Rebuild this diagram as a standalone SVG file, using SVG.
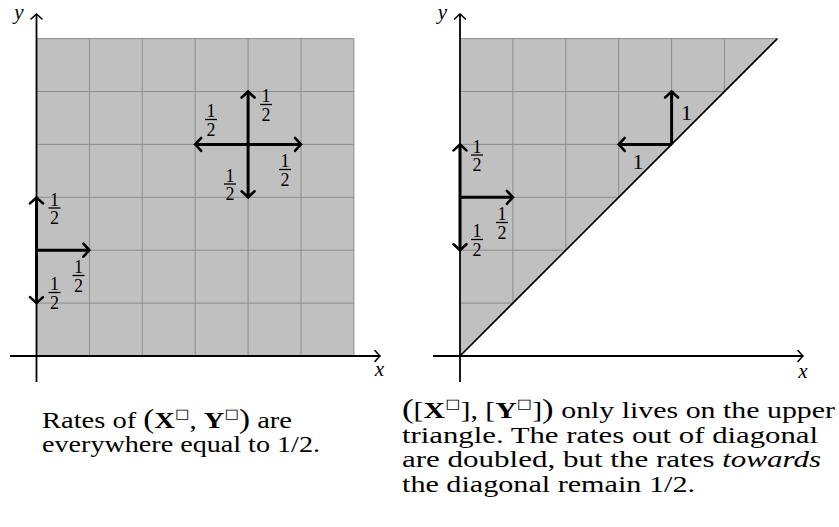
<svg xmlns="http://www.w3.org/2000/svg" width="839" height="527" viewBox="0 0 839 527">
<style>
.fill{fill:#c0c0c0;stroke:none}
.grid{stroke:#8c8c8c;stroke-width:1;fill:none}
.axis{stroke:#000;stroke-width:1.8;fill:none;marker-end:url(#ax)}
.arr{stroke:#000;stroke-width:3;fill:none;marker-end:url(#ah)}
.diag{stroke:#000;stroke-width:1.6}
.num{font-family:"Liberation Serif",serif;font-size:18px;text-anchor:middle;fill:#000}
.one{font-family:"Liberation Serif",serif;font-size:22px;text-anchor:middle;fill:#000}
.bar{stroke:#000;stroke-width:1.3}
.lab{font-family:"Liberation Serif",serif;font-style:italic;font-size:21px;text-anchor:middle;fill:#000}
.cap{font-family:"Liberation Serif",serif;font-size:24px;fill:#000}
.b{font-weight:bold}
.sq{font-family:"DejaVu Sans",sans-serif;font-size:13px}
.bp{font-size:28px}
.it{font-style:italic}
</style>
<defs>
<marker id="ah" markerUnits="userSpaceOnUse" markerWidth="20" markerHeight="20" viewBox="-10 -10 20 20" refX="0" refY="0" orient="auto" overflow="visible">
<path d="M-6,-6.5 Q-1.5,-1.5 0,0 Q-1.5,1.5 -6,6.5" fill="none" stroke="#000" stroke-width="2.6" stroke-linecap="round"/>
</marker>
<marker id="ax" markerUnits="userSpaceOnUse" markerWidth="16" markerHeight="16" viewBox="-8 -8 16 16" refX="0" refY="0" orient="auto" overflow="visible">
<path d="M-5,-5.5 Q-1.2,-1.2 0,0 Q-1.2,1.2 -5,5.5" fill="none" stroke="#000" stroke-width="1.6" stroke-linecap="round"/>
</marker>
</defs>

<g id="panel-left">
<rect class="fill" x="36.5" y="38.6" width="317.4" height="317.4"/>
<path class="grid" d="M89.4,38.6V356M142.3,38.6V356M195.2,38.6V356M248.1,38.6V356M301,38.6V356M353.9,38.6V356M36.5,38.6H353.9M36.5,91.5H353.9M36.5,144.4H353.9M36.5,197.3H353.9M36.5,250.2H353.9M36.5,303.1H353.9"/>
</g>

<g id="panel-right">
<polygon class="fill" points="460,356 460,38.6 777.4,38.6"/>
<path class="grid" d="M512.9,38.6V303.1M565.8,38.6V250.2M618.7,38.6V197.3M671.6,38.6V144.4M724.5,38.6V91.5M460,38.6H777.4M460,91.5H724.5M460,144.4H671.6M460,197.3H618.7M460,250.2H565.8M460,303.1H512.9"/>
<line class="diag" x1="460" y1="356" x2="777.4" y2="38.6"/>
</g>

<g id="connectors">
<line class="axis" x1="36.5" y1="382" x2="36.5" y2="14"/>
<line class="axis" x1="10" y1="356" x2="380" y2="356"/>
<line class="axis" x1="460" y1="382" x2="460" y2="14"/>
<line class="axis" x1="433" y1="356" x2="803" y2="356"/>
<line class="arr" x1="248.1" y1="144.4" x2="248.1" y2="91.5"/>
<line class="arr" x1="248.1" y1="144.4" x2="301" y2="144.4"/>
<line class="arr" x1="248.1" y1="144.4" x2="195.2" y2="144.4"/>
<line class="arr" x1="248.1" y1="144.4" x2="248.1" y2="197.3"/>
<line class="arr" x1="36.5" y1="250.2" x2="36.5" y2="197.3"/>
<line class="arr" x1="36.5" y1="250.2" x2="89.4" y2="250.2"/>
<line class="arr" x1="36.5" y1="250.2" x2="36.5" y2="303.1"/>
<line class="arr" x1="671.6" y1="144.4" x2="671.6" y2="91.5"/>
<line class="arr" x1="671.6" y1="144.4" x2="618.7" y2="144.4"/>
<line class="arr" x1="460" y1="197.3" x2="460" y2="144.4"/>
<line class="arr" x1="460" y1="197.3" x2="512.9" y2="197.3"/>
<line class="arr" x1="460" y1="197.3" x2="460" y2="250.2"/>
</g>

<g id="axis-labels">
<text class="lab" x="19" y="19">y</text>
<text class="lab" x="379.5" y="376">x</text>
<text class="lab" x="442.5" y="19">y</text>
<text class="lab" x="803" y="378">x</text>
</g>

<g id="rate-labels">
<g id="f1"><text class="num" x="266" y="102">1</text><line class="bar" x1="260" y1="104.5" x2="272" y2="104.5"/><text class="num" x="266" y="120.5">2</text></g>
<g id="f2"><text class="num" x="211" y="117">1</text><line class="bar" x1="205" y1="119.5" x2="217" y2="119.5"/><text class="num" x="211" y="135.5">2</text></g>
<g id="f3"><text class="num" x="285" y="167">1</text><line class="bar" x1="279" y1="169.5" x2="291" y2="169.5"/><text class="num" x="285" y="185.5">2</text></g>
<g id="f4"><text class="num" x="230" y="181.5">1</text><line class="bar" x1="224" y1="184" x2="236" y2="184"/><text class="num" x="230" y="200">2</text></g>
<g id="f5"><text class="num" x="54.5" y="205.5">1</text><line class="bar" x1="48.5" y1="208" x2="60.5" y2="208"/><text class="num" x="54.5" y="224">2</text></g>
<g id="f6"><text class="num" x="78.5" y="273">1</text><line class="bar" x1="72.5" y1="275.5" x2="84.5" y2="275.5"/><text class="num" x="78.5" y="291.5">2</text></g>
<g id="f7"><text class="num" x="54.5" y="290">1</text><line class="bar" x1="48.5" y1="292.5" x2="60.5" y2="292.5"/><text class="num" x="54.5" y="308.5">2</text></g>
<g id="f8"><text class="num" x="477" y="152.5">1</text><line class="bar" x1="471" y1="155" x2="483" y2="155"/><text class="num" x="477" y="171">2</text></g>
<g id="f9"><text class="num" x="502" y="220">1</text><line class="bar" x1="496" y1="222.5" x2="508" y2="222.5"/><text class="num" x="502" y="238.5">2</text></g>
<g id="f10"><text class="num" x="477" y="237">1</text><line class="bar" x1="471" y1="239.5" x2="483" y2="239.5"/><text class="num" x="477" y="255.5">2</text></g>
<text class="one" x="686.5" y="120">1</text>
<text class="one" x="638" y="168.5">1</text>
</g>

<g id="caption-left">
<text class="cap" x="42" y="428" textLength="250" lengthAdjust="spacingAndGlyphs">Rates of <tspan class="bp">(</tspan><tspan class="b">X</tspan><tspan class="sq" dy="-10">□</tspan><tspan dy="10">, </tspan><tspan class="b">Y</tspan><tspan class="sq" dy="-10">□</tspan><tspan class="bp" dy="10">)</tspan> are</text>
<text class="cap" x="42" y="452" textLength="278" lengthAdjust="spacingAndGlyphs">everywhere equal to 1/2.</text>
</g>

<g id="caption-right">
<text class="cap" x="402" y="418" textLength="433" lengthAdjust="spacingAndGlyphs"><tspan class="bp">(</tspan>[<tspan class="b">X</tspan><tspan class="sq" dy="-10">□</tspan><tspan dy="10">], [</tspan><tspan class="b">Y</tspan><tspan class="sq" dy="-10">□</tspan><tspan dy="10">]</tspan><tspan class="bp">)</tspan> only lives on the upper</text>
<text class="cap" x="402" y="443" textLength="416" lengthAdjust="spacingAndGlyphs">triangle. The rates out of diagonal</text>
<text class="cap" x="402" y="467" textLength="419" lengthAdjust="spacingAndGlyphs">are doubled, but the rates <tspan class="it">towards</tspan></text>
<text class="cap" x="402" y="492" textLength="293" lengthAdjust="spacingAndGlyphs">the diagonal remain 1/2.</text>
</g>
</svg>
